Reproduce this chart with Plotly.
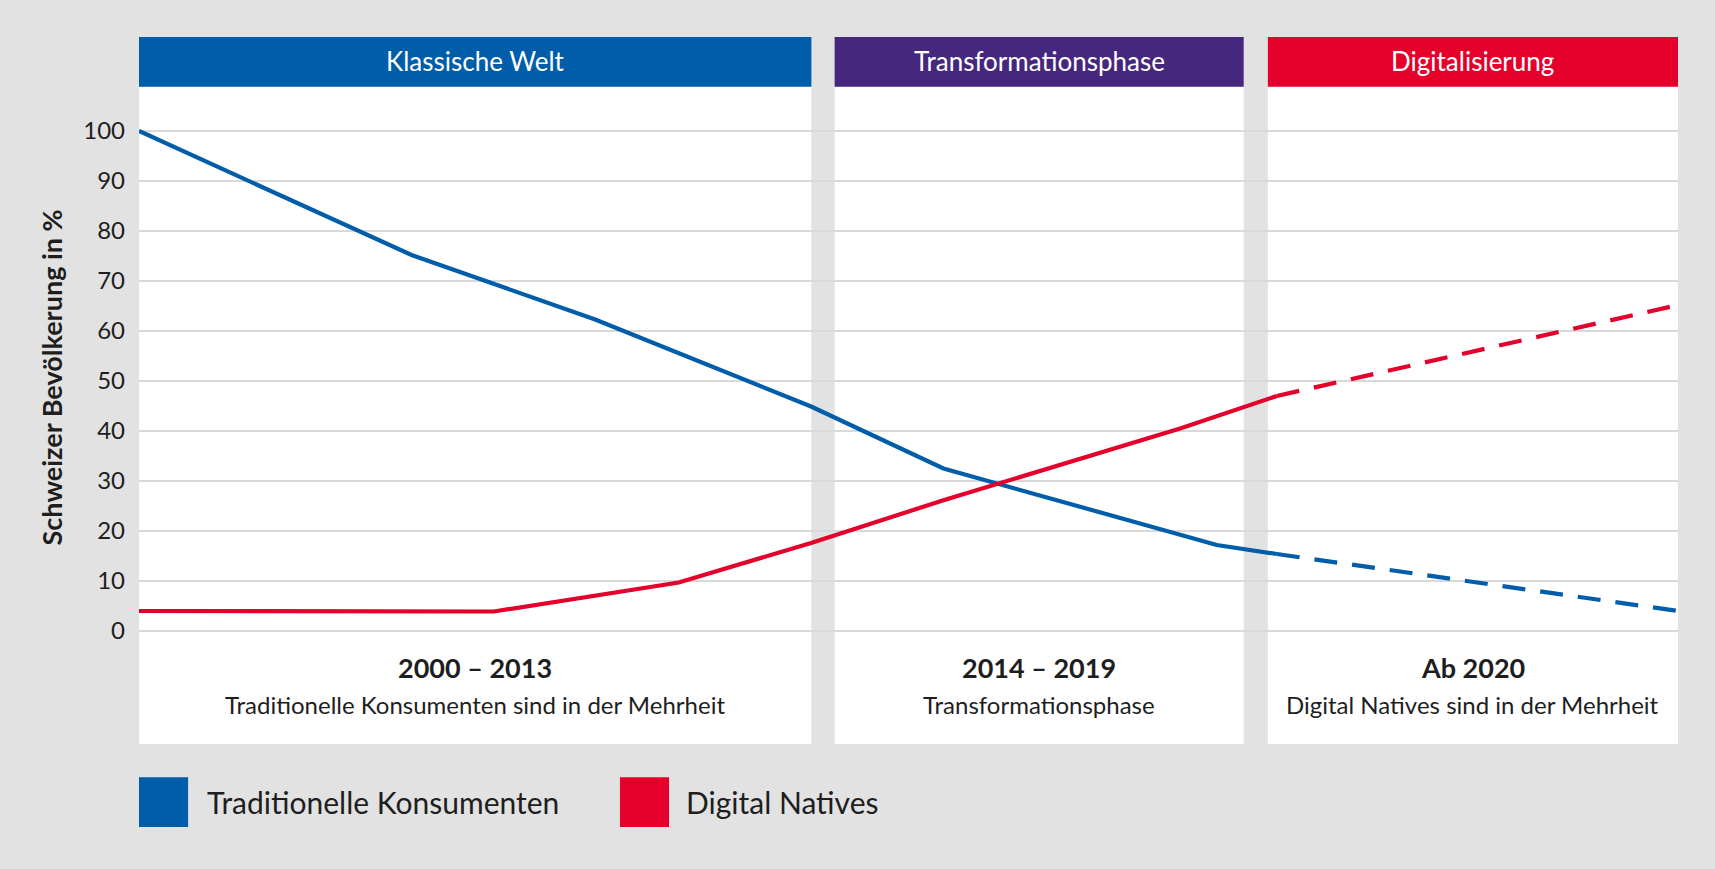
import plotly.graph_objects as go

# ---------------- data ----------------
# x = position on the timeline (0 = start of 2000, 100 = right edge of "Ab 2020")
x_trad = [0.0, 17.71, 29.64, 43.67, 52.27, 62.22, 70.03, 73.93]
y_trad = [100.0, 75.2, 62.3, 44.9, 32.5, 24.0, 17.2, 15.4]
x_trad_proj = [73.93, 100.0]
y_trad_proj = [15.4, 4.0]

x_digi = [0.0, 23.06, 35.07, 43.67, 52.32, 67.65, 73.93]
y_digi = [4.0, 3.9, 9.7, 17.6, 26.2, 40.5, 47.0]
x_digi_proj = [73.93, 100.0]
y_digi_proj = [47.0, 65.2]

series_names = ["Traditionelle Konsumenten", "Digital Natives"]
series_colors = ["#005DAA", "#E4002B"]

phase_names = ["Klassische Welt", "Transformationsphase", "Digitalisierung"]
phase_colors = ["#005DAA", "#45277D", "#E4002B"]
phase_start = [0.0, 45.2, 73.35]
phase_end = [43.69, 71.78, 100.0]
phase_years = ["2000 – 2013", "2014 – 2019", "Ab 2020"]
phase_desc = ["Traditionelle Konsumenten sind in der Mehrheit",
              "Transformationsphase",
              "Digital Natives sind in der Mehrheit"]

y_ticks = list(range(0, 101, 10))
y_title = "Schweizer Bevölkerung in %"

# ---------------- layout constants ----------------
FONT = "Lato"
BG = "#E2E2E2"
TXT = "#1E1E1E"
Y_MIN, Y_MAX = -22.6, 118.8
HEADER_BOTTOM = 108.86

fig = go.Figure()

# solid lines
fig.add_trace(go.Scatter(x=x_trad, y=y_trad, mode="lines",
                         line=dict(color=series_colors[0], width=4.2),
                         name=series_names[0], showlegend=False, hoverinfo="skip"))
fig.add_trace(go.Scatter(x=x_digi, y=y_digi, mode="lines",
                         line=dict(color=series_colors[1], width=4.2),
                         name=series_names[1], showlegend=False, hoverinfo="skip"))
# projections (dashed)
fig.add_trace(go.Scatter(x=x_trad_proj, y=y_trad_proj, mode="lines",
                         line=dict(color=series_colors[0], width=4.2, dash="23px,15px"),
                         showlegend=False, hoverinfo="skip"))
fig.add_trace(go.Scatter(x=x_digi_proj, y=y_digi_proj, mode="lines",
                         line=dict(color=series_colors[1], width=4.2, dash="23px,15px"),
                         showlegend=False, hoverinfo="skip"))

shapes = []
annotations = []
for i in range(3):
    # white panel body
    shapes.append(dict(type="rect", xref="x", yref="y", layer="below",
                       x0=phase_start[i], x1=phase_end[i], y0=Y_MIN, y1=HEADER_BOTTOM,
                       fillcolor="white", line=dict(width=0)))
    # coloured header
    shapes.append(dict(type="rect", xref="x", yref="y", layer="below",
                       x0=phase_start[i], x1=phase_end[i], y0=HEADER_BOTTOM, y1=Y_MAX,
                       fillcolor=phase_colors[i], line=dict(width=0)))
    xc = (phase_start[i] + phase_end[i]) / 2
    annotations.append(dict(x=xc, y=(HEADER_BOTTOM + Y_MAX) / 2 + 0.2, xref="x", yref="y",
                            text=phase_names[i], showarrow=False,
                            font=dict(family=FONT, size=26, color="white")))
    annotations.append(dict(x=xc, y=-7.2, xref="x", yref="y",
                            text="<b>" + phase_years[i] + "</b>", showarrow=False,
                            font=dict(family=FONT, size=27, color=TXT)))
    annotations.append(dict(x=xc, y=-14.7, xref="x", yref="y",
                            text=phase_desc[i], showarrow=False,
                            font=dict(family=FONT, size=24, color=TXT)))

# y-axis title
annotations.append(dict(x=0, xref="paper", xshift=-88, y=50.7, yref="y",
                        text="<b>" + y_title + "</b>", textangle=-90, showarrow=False,
                        xanchor="center", yanchor="middle",
                        font=dict(family=FONT, size=27, color=TXT)))

# custom legend (squares + labels) below the panels
leg_sq_x0 = [0.0, 0.3125]
leg_txt_x = [0.0430, 0.3544]
for i in range(2):
    shapes.append(dict(type="rect", xref="paper", yref="paper",
                       x0=leg_sq_x0[i], x1=leg_sq_x0[i] + 0.0319,
                       y0=-0.1175, y1=-0.0470,
                       fillcolor=series_colors[i], line=dict(width=0)))
    annotations.append(dict(x=leg_txt_x[i], y=-0.0822, xref="paper", yref="paper",
                            text=series_names[i], showarrow=False,
                            xanchor="left", yanchor="middle",
                            font=dict(family=FONT, size=30, color=TXT)))

fig.update_layout(
    width=1715, height=869, autosize=False,
    margin=dict(l=139, r=37, t=37, b=125),
    paper_bgcolor=BG, plot_bgcolor="rgba(0,0,0,0)",
    shapes=shapes, annotations=annotations,
    showlegend=False,
    xaxis=dict(range=[0, 100], showgrid=False, zeroline=False,
               showticklabels=False, showline=False, fixedrange=True),
    yaxis=dict(range=[Y_MIN, Y_MAX], tickmode="array", tickvals=y_ticks,
               showgrid=True, gridcolor="#D9D9D9", gridwidth=1.5,
               zeroline=False, showline=False,
               ticklabelstandoff=13,
               tickfont=dict(family=FONT, size=24, color=TXT), fixedrange=True),
)

fig.write_html("out.html", config={"displayModeBar": False})
